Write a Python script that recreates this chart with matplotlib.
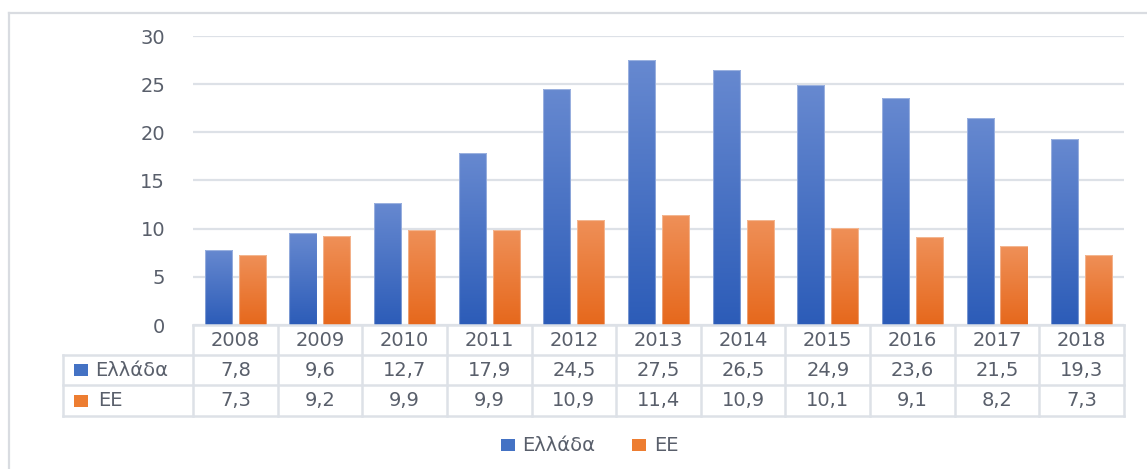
import numpy as np
import matplotlib
matplotlib.use("Agg")
import matplotlib.pyplot as plt
from matplotlib.colors import LinearSegmentedColormap
from matplotlib.patches import Rectangle
from matplotlib.lines import Line2D
import matplotlib.transforms as mtransforms

years = ["2008", "2009", "2010", "2011", "2012", "2013", "2014", "2015", "2016", "2017", "2018"]
greece = [7.8, 9.6, 12.7, 17.9, 24.5, 27.5, 26.5, 24.9, 23.6, 21.5, 19.3]
eu = [7.3, 9.2, 9.9, 9.9, 10.9, 11.4, 10.9, 10.1, 9.1, 8.2, 7.3]
series_names = ["Ελλάδα", "ΕΕ"]
yticks = [0, 5, 10, 15, 20, 25, 30]

W, H = 1147, 469
plt.rcParams['font.family'] = ['DejaVu Sans']
TXT = '#595f6b'
GRID = '#dde1e7'
BLUE = '#4472c4'
ORANGE = '#ed7d31'

fig = plt.figure(figsize=(W / 100, H / 100), dpi=100)
fig.patch.set_facecolor('white')

def fx(px):
    return px / W

def fy(py):
    return 1 - py / H

ax_l, ax_r, ax_t, ax_b = 193, 1124, 36, 325
ax = fig.add_axes([fx(ax_l), fy(ax_b), fx(ax_r) - fx(ax_l), fy(ax_t) - fy(ax_b)])

x = np.arange(len(years))
w = 0.32
off = 0.2

blue_cmap = LinearSegmentedColormap.from_list('b', ['#2c5cb8', '#6789d0'])
orange_cmap = LinearSegmentedColormap.from_list('o', ['#e6681c', '#ef9058'])

b1 = ax.bar(x - off, greece, width=w, color='none', edgecolor='none', zorder=3)
b2 = ax.bar(x + off, eu, width=w, color='none', edgecolor='none', zorder=3)

grad = np.linspace(1, 0, 256).reshape(-1, 1)
for bars, cmap in ((b1, blue_cmap), (b2, orange_cmap)):
    for b in bars:
        x0, y0, bw, bh = b.get_x(), b.get_y(), b.get_width(), b.get_height()
        im = ax.imshow(grad, extent=[x0, x0 + bw, y0, y0 + bh], cmap=cmap,
                       aspect='auto', origin='upper', zorder=3, interpolation='bilinear')
        im.set_clip_path(b)
        ax.add_patch(Rectangle((x0, y0), bw, bh, facecolor='none',
                               edgecolor=(1, 1, 1, 0.35), linewidth=0.8, zorder=4))

fs = 14

ax.set_xlim(-0.5, len(years) - 0.5)
ax.set_ylim(0, 30)
ax.set_aspect('auto')
ax.set_yticks(yticks)
ax.set_yticklabels([str(v) for v in yticks])
ax.tick_params(axis='y', length=0, pad=20, labelsize=fs, labelcolor=TXT)
ax.set_xticks([])
for s in ax.spines.values():
    s.set_visible(False)
ax.grid(axis='y', color=GRID, linewidth=1.6, zorder=0)
ax.set_axisbelow(True)
ax.set_facecolor('none')

# data table
blend = mtransforms.blended_transform_factory(ax.transData, fig.transFigure)
row_y = [325, 355, 385, 416]
lw = 1.8
fig.add_artist(Line2D([-0.5, len(years) - 0.5], [fy(row_y[0])] * 2, transform=blend, color=GRID, lw=lw))
for ry in row_y[1:]:
    fig.add_artist(Line2D([fx(63), fx(ax_r)], [fy(ry)] * 2, transform=fig.transFigure, color=GRID, lw=lw))
for k in range(len(years) + 1):
    fig.add_artist(Line2D([k - 0.5, k - 0.5], [fy(row_y[0]), fy(row_y[3])], transform=blend, color=GRID, lw=lw))
fig.add_artist(Line2D([fx(63), fx(63)], [fy(row_y[1]), fy(row_y[3])], transform=fig.transFigure, color=GRID, lw=lw))

for i, yr in enumerate(years):
    fig.text(x[i], fy((row_y[0] + row_y[1]) / 2), yr, transform=blend, ha='center', va='center',
             fontsize=fs, color=TXT)
    fig.text(x[i], fy((row_y[1] + row_y[2]) / 2), f"{greece[i]:.1f}".replace('.', ','), transform=blend,
             ha='center', va='center', fontsize=fs, color=TXT)
    fig.text(x[i], fy((row_y[2] + row_y[3]) / 2), f"{eu[i]:.1f}".replace('.', ','), transform=blend,
             ha='center', va='center', fontsize=fs, color=TXT)

for r, (name, col, tx) in enumerate(((series_names[0], BLUE, 95), (series_names[1], ORANGE, 98))):
    cy = (row_y[1 + r] + row_y[2 + r]) / 2
    fig.add_artist(Rectangle((fx(74), fy(cy + 6)), fx(14), fy(0) - fy(12), transform=fig.transFigure,
                             facecolor=col, edgecolor='none'))
    fig.text(fx(tx), fy(cy), name, ha='left', va='center', fontsize=fs, color=TXT)

# bottom legend
ly = 445
fig.add_artist(Rectangle((fx(501), fy(ly + 6)), fx(14), fy(0) - fy(12), transform=fig.transFigure,
                         facecolor=BLUE, edgecolor='none'))
fig.text(fx(522), fy(ly), series_names[0], ha='left', va='center', fontsize=fs, color=TXT)
fig.add_artist(Rectangle((fx(632), fy(ly + 6)), fx(14), fy(0) - fy(12), transform=fig.transFigure,
                         facecolor=ORANGE, edgecolor='none'))
fig.text(fx(654), fy(ly), series_names[1], ha='left', va='center', fontsize=fs, color=TXT)

# outer frame
fig.add_artist(Line2D([fx(9), fx(9)], [fy(13), 0], transform=fig.transFigure, color='#d9dce1', lw=1.6))
fig.add_artist(Line2D([fx(9), 1], [fy(13), fy(13)], transform=fig.transFigure, color='#d9dce1', lw=1.6))

fig.savefig('out.png', dpi=100, facecolor='white')
